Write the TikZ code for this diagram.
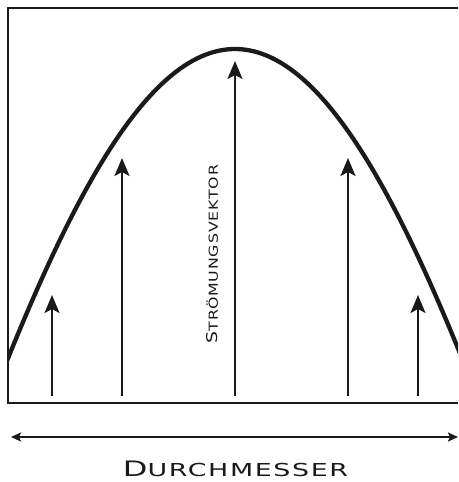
\documentclass[tikz,border=0pt]{standalone}
\usepackage{fontspec}
\setmainfont{DejaVu Sans}
\usetikzlibrary{arrows.meta}
\newcommand\fakesc[2]{{\fontsize{10}{12}\selectfont #1}{\fontsize{8.4}{10}\selectfont #2}}
\definecolor{ink}{HTML}{1A1A1A}
\tikzset{
  frame/.style={draw=ink, line width=2.5pt},
  profile/.style={draw=ink, line width=4.3pt},
  vec/.style={draw=ink, line width=2.3pt, -{Stealth[length=18pt,width=15pt,inset=4pt]}},
  dim/.style={draw=ink, line width=2pt, {Stealth[length=10pt,width=9pt,inset=2pt]}-{Stealth[length=10pt,width=9pt,inset=2pt]}},
  lbl/.style={inner sep=0pt, outer sep=0pt, text=ink}
}
\begin{document}
\begin{tikzpicture}[x=1pt,y=-1pt]
\useasboundingbox (0,0) rectangle (458,482);
% frame (right side open / cut off)
\coordinate (fTR) at (458,8);
\coordinate (fTL) at (8,8);
\coordinate (fBL) at (8,403);
\coordinate (fBR) at (458,403);
\draw[frame, line join=miter] (fTR) -- (fTL) -- (fBL) -- (fBR);
% velocity profile
\begin{scope}
\clip (8,0) rectangle (458,403);
\draw[profile] plot[domain=5:461, samples=120, smooth] (\x, {49+625*(1-cos(deg((\x-235)/218)))});
\end{scope}
% arrows
\foreach \i/\xx/\yy in {1/52/295, 2/122/158, 3/235/61, 4/348/158, 5/418/295}{
  \coordinate (b\i) at (\xx,396);
  \coordinate (t\i) at (\xx,\yy);
}
\foreach \i in {1,...,5}{ \draw[vec] (b\i) -- (t\i); }
% dimension arrow
\coordinate (dL) at (11,437);
\coordinate (dR) at (458,437);
\draw[dim] (dL) -- (dR);
% labels
\node[lbl] (diam) at (235.5,469) {\resizebox{225pt}{15.5pt}{\addfontfeatures{LetterSpace=6}\fakesc{D}{URCHMESSER}}};
\node[lbl, rotate=90] (vname) at (212.5,254) {\resizebox{178pt}{11pt}{\addfontfeatures{LetterSpace=6}\fakesc{S}{TR\smash{Ö}MUNGSVEKTOR}}};
\end{tikzpicture}
\end{document}
